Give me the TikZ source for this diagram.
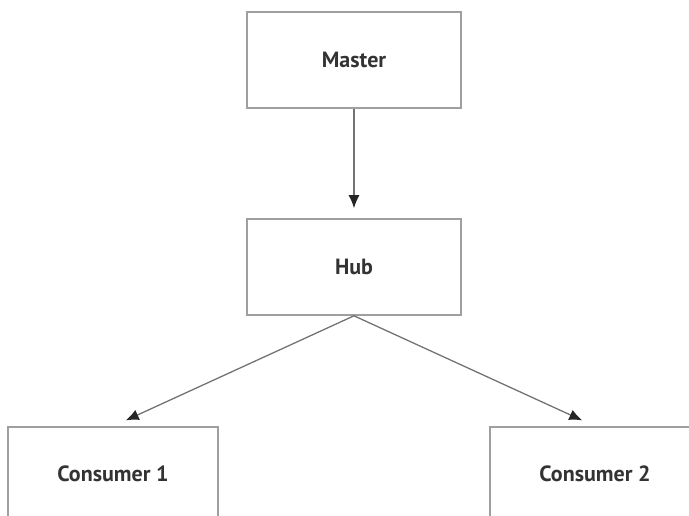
\documentclass[tikz,border=0pt]{standalone}
\usepackage{fontspec}
\setmainfont{PT Sans}
\usetikzlibrary{arrows.meta}
\begin{document}
\begin{tikzpicture}[x=1pt,y=-1pt,
		box/.style={draw=gray!75, line width=1.6pt, fill=white, text=black!80, font=\fontsize{22}{26}\selectfont\bfseries},
		link/.style={-{Latex[length=13pt,width=11pt,color=black!85]}, draw=gray!90!black, line width=1.3pt}]
		\useasboundingbox (0,0) rectangle (689,515);
		\clip (0,0) rectangle (689,515);
		\node[box, minimum width=214pt, minimum height=96pt] (master) at (354,60) {Master};
		\node[box, minimum width=214pt, minimum height=96pt] (hub) at (354,267) {Hub};
		\node[box, minimum width=210pt, minimum height=94pt] (cons1) at (113,474) {Consumer 1};
		\node[box, minimum width=210pt, minimum height=94pt] (cons2) at (595,474) {Consumer 2};
		\draw[link, shorten >=10pt] (master.south) -- (hub.north);
		\draw[link, shorten >=14pt] (hub.south) -- (cons1.north);
		\draw[link, shorten >=14pt] (hub.south) -- (cons2.north);
	\end{tikzpicture}
\end{document}
